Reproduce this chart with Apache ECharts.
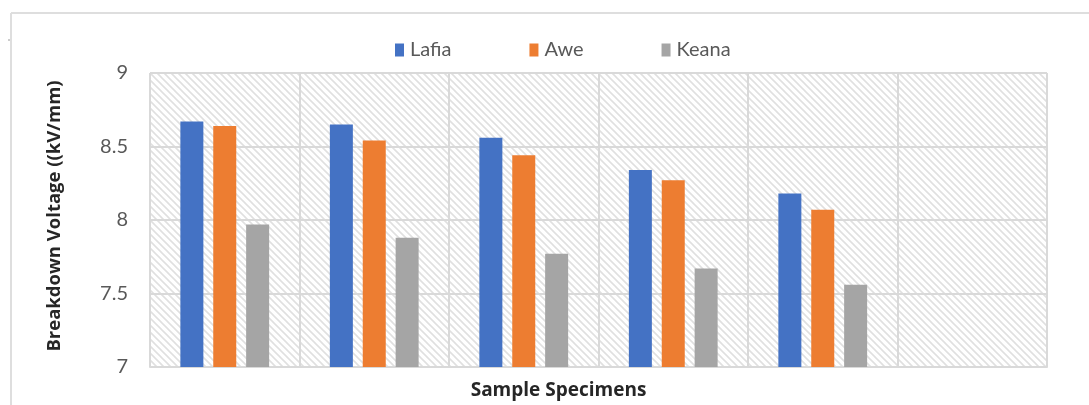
<!DOCTYPE html>
<html>
<head>
<meta charset="utf-8">
<script src="https://cdn.jsdelivr.net/npm/echarts@6/dist/echarts.min.js"></script>
<style>
  html, body { margin: 0; padding: 0; background: #ffffff; }
  #chart { width: 1089px; height: 405px; }
</style>
</head>
<body>
<div id="chart"></div>
<script>
// Breakdown voltage of three sample groups
const categories = ['1', '2', '3', '4', '5', '6'];
const lafia = [8.67, 8.65, 8.56, 8.34, 8.18, null];
const awe   = [8.64, 8.54, 8.44, 8.27, 8.07, null];
const keana = [7.97, 7.88, 7.77, 7.67, 7.56, null];
const yTicks = { min: 7, max: 9, step: 0.5 };

// Diagonal hatch tile for the plot background
function hatchTile() {
  const s = 7;
  const c = document.createElement('canvas');
  c.width = s; c.height = s;
  const g = c.getContext('2d');
  g.fillStyle = '#ffffff';
  g.fillRect(0, 0, s, s);
  g.strokeStyle = '#e0e0e0';
  g.lineWidth = 1.6;
  g.beginPath();
  g.moveTo(-1, -1); g.lineTo(s + 1, s + 1);
  g.moveTo(-1, s - 1); g.lineTo(1, s + 1);
  g.moveTo(s - 1, -1); g.lineTo(s + 1, 1);
  g.stroke();
  return c;
}

const textGray = '#595959';
const font = 'Lato, "Open Sans", sans-serif';
const boldFont = '"Open Sans", Lato, sans-serif';
const gridColor = '#d9d9d9';

const chart = echarts.init(document.getElementById('chart'), null, { renderer: 'canvas' });

function bar(name, data, color) {
  return {
    name, type: 'bar', data,
    barWidth: 23, barGap: '43%',
    itemStyle: { color },
    emphasis: { disabled: true }
  };
}

chart.setOption({
  animation: false,
  backgroundColor: '#ffffff',
  legend: {
    left: 390, top: 35,
    itemWidth: 9, itemHeight: 13, itemGap: 78,
    icon: 'rect',
    textStyle: { color: textGray, fontSize: 20, fontFamily: font, padding: [0, 0, 0, 1] },
    data: ['Lafia', 'Awe', 'Keana']
  },
  grid: {
    left: 150, right: 42, top: 73, bottom: 36,
    show: true,
    borderWidth: 0,
    backgroundColor: { image: hatchTile(), repeat: 'repeat' }
  },
  xAxis: {
    type: 'category',
    data: categories,
    name: 'Sample Specimens',
    nameLocation: 'middle',
    nameGap: 14,
    nameTextStyle: { color: '#262626', fontSize: 19, fontWeight: 'bold', fontFamily: boldFont, padding: [0, 80, 0, 0] },
    axisLine: { show: true, lineStyle: { color: gridColor, width: 2 } },
    axisTick: { show: false },
    axisLabel: { show: false },
    splitLine: { show: true, lineStyle: { color: gridColor, width: 2 } }
  },
  yAxis: {
    type: 'value',
    min: yTicks.min, max: yTicks.max, interval: yTicks.step,
    name: 'Breakdown Voltage ((kV/mm)',
    nameLocation: 'middle',
    nameGap: 86,
    nameTextStyle: { color: '#262626', fontSize: 18.5, fontWeight: 'bold', fontFamily: boldFont, padding: [0, 0, 0, 8] },
    axisLine: { show: false },
    axisTick: { show: false },
    axisLabel: { color: textGray, fontSize: 20, fontFamily: font, margin: 22 },
    splitLine: { show: true, lineStyle: { color: gridColor, width: 2 } }
  },
  graphic: [
    { type: 'line', shape: { x1: 11, y1: 13, x2: 1089, y2: 13 }, style: { stroke: '#dedede', lineWidth: 2 }, silent: true },
    { type: 'line', shape: { x1: 11, y1: 13, x2: 11, y2: 405 }, style: { stroke: '#dedede', lineWidth: 2 }, silent: true },
    { type: 'line', shape: { x1: 8, y1: 40, x2: 10, y2: 40 }, style: { stroke: '#9a9a9a', lineWidth: 1 }, silent: true }
  ],
  series: [
    bar('Lafia', lafia, '#4472C4'),
    bar('Awe', awe, '#ED7D31'),
    bar('Keana', keana, '#A5A5A5')
  ]
});
</script>
</body>
</html>
